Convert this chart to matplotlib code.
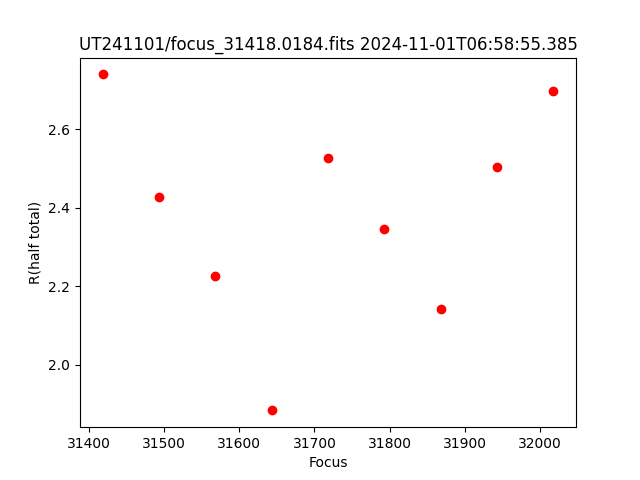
import matplotlib
matplotlib.use("Agg")
import matplotlib.pyplot as plt

focus = [31418, 31493, 31568, 31643, 31718, 31793, 31868, 31943, 32018]
r_half = [2.740, 2.427, 2.227, 1.883, 2.528, 2.345, 2.141, 2.503, 2.697]

fig, ax = plt.subplots(figsize=(6.4, 4.8), dpi=100)
ax.plot(focus, r_half, 'ro')
ax.set_xlabel('Focus')
ax.set_ylabel('R(half total)')
ax.set_title('UT241101/focus_31418.0184.fits 2024-11-01T06:58:55.385')
fig.savefig('out.png', dpi=100)
